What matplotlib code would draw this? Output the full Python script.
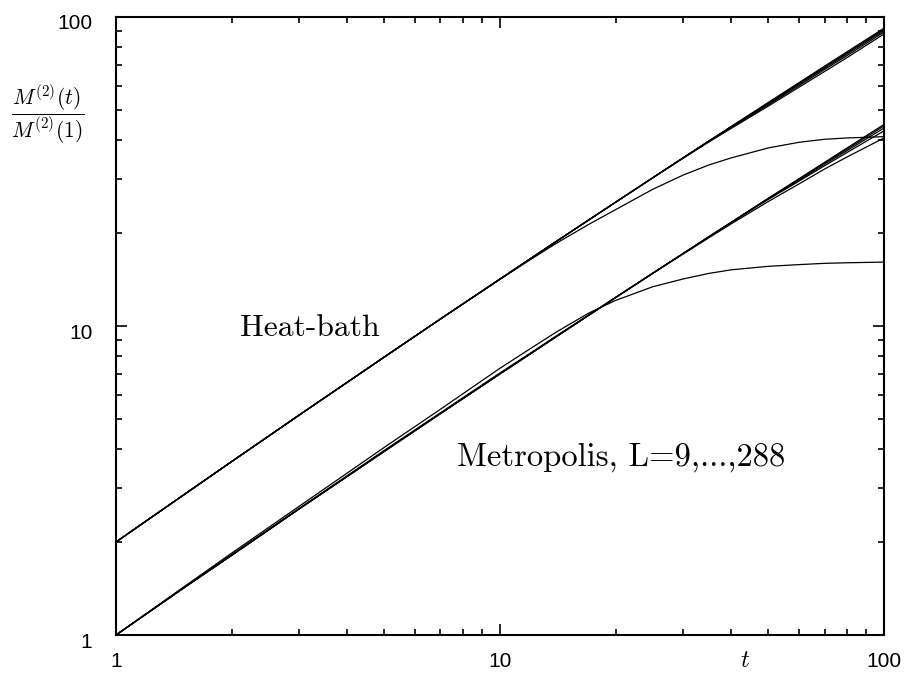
import matplotlib
matplotlib.use("Agg")
import matplotlib.pyplot as plt
import matplotlib.transforms as mtransforms
from matplotlib.ticker import LogLocator, NullFormatter, FixedFormatter, FixedLocator

plt.rcParams['mathtext.fontset'] = 'cm'
plt.rcParams['font.family'] = ['Liberation Sans', 'DejaVu Sans']

# tempi (passi Monte Carlo)
t = [1, 1.5, 2, 3, 5, 7, 10, 12, 14, 17, 20, 25, 30, 35, 40, 50, 60, 70, 80, 100]

# Heat-bath, L = 9, 18, 36, 72, 144, 288
hb_L9   = [2.0, 2.84, 3.64, 5.15, 7.94, 10.54, 14.15, 16.4, 18.5, 21.3, 23.8, 27.7, 30.8, 33.2, 35.0, 37.7, 39.3, 40.2, 40.6, 41.0]
hb_L18  = [2.0, 2.84, 3.64, 5.15, 7.94, 10.54, 14.19, 16.51, 18.76, 22.01, 25.15, 30.18, 34.9, 39.4, 43.6, 51.5, 59.2, 66.6, 73.8, 88.1]
hb_L36  = [2.0, 2.84, 3.64, 5.15, 7.94, 10.54, 14.19, 16.51, 18.76, 22.01, 25.15, 30.18, 35.03, 39.6, 43.9, 52.0, 59.9, 67.6, 74.9, 89.4]
hb_L72  = [2.0, 2.84, 3.64, 5.15, 7.94, 10.54, 14.19, 16.51, 18.76, 22.01, 25.15, 30.18, 35.03, 39.69, 44.1, 52.4, 60.5, 68.3, 75.8, 90.4]
hb_L144 = [2.0, 2.84, 3.64, 5.15, 7.94, 10.54, 14.19, 16.51, 18.76, 22.01, 25.15, 30.18, 35.03, 39.69, 44.2, 52.7, 60.9, 68.8, 76.4, 91.2]
hb_L288 = [2.0, 2.84, 3.64, 5.15, 7.94, 10.54, 14.19, 16.51, 18.76, 22.01, 25.15, 30.18, 35.03, 39.69, 44.2, 52.93, 61.25, 69.31, 77.09, 92.0]

# Metropolis, L = 9, 18, 36, 72, 144, 288
mp_L9   = [1.0, 1.43, 1.84, 2.61, 4.05, 5.38, 7.3, 8.45, 9.55, 11.0, 12.1, 13.4, 14.2, 14.8, 15.2, 15.6, 15.8, 15.95, 16.02, 16.1]
mp_L18  = [1.0, 1.42, 1.82, 2.57, 3.96, 5.24, 7.05, 8.17, 9.28, 10.85, 12.38, 14.8, 17.1, 19.3, 21.4, 25.3, 28.8, 32.2, 35.2, 40.6]
mp_L36  = [1.0, 1.42, 1.81, 2.56, 3.94, 5.21, 7.0, 8.13, 9.23, 10.82, 12.36, 14.82, 17.17, 19.45, 21.6, 25.7, 29.4, 33.0, 36.4, 42.8]
mp_L72  = [1.0, 1.42, 1.81, 2.56, 3.93, 5.21, 7.0, 8.13, 9.23, 10.82, 12.36, 14.82, 17.17, 19.45, 21.65, 25.85, 29.6, 33.4, 36.9, 43.7]
mp_L144 = [1.0, 1.42, 1.81, 2.56, 3.93, 5.21, 7.0, 8.13, 9.23, 10.82, 12.36, 14.82, 17.17, 19.45, 21.65, 25.9, 29.8, 33.7, 37.3, 44.4]
mp_L288 = [1.0, 1.42, 1.81, 2.56, 3.93, 5.21, 7.0, 8.13, 9.23, 10.82, 12.36, 14.82, 17.17, 19.45, 21.65, 25.9, 29.95, 33.84, 37.63, 44.9]

curves = [hb_L9, hb_L18, hb_L36, hb_L72, hb_L144, hb_L288,
          mp_L9, mp_L18, mp_L36, mp_L72, mp_L144, mp_L288]

tick_vals = [1, 10, 100]
tick_labels = ["1", "10", "100"]

fig = plt.figure(figsize=(9.06, 6.77), dpi=100)
ax = fig.add_axes([0.128, 0.062, 0.8477, 0.9129])

for y in curves:
    ax.plot(t, y, color='black', linewidth=0.9)

ax.set_xscale('log')
ax.set_yscale('log')
ax.set_xlim(1, 100)
ax.set_ylim(1, 100)

for axis in (ax.xaxis, ax.yaxis):
    axis.set_major_locator(FixedLocator(tick_vals))
    axis.set_major_formatter(FixedFormatter(tick_labels))
    axis.set_minor_locator(LogLocator(base=10, subs=range(2, 10)))
    axis.set_minor_formatter(NullFormatter())

ax.tick_params(which='both', direction='in', top=True, right=True, width=1.2, colors='black')
ax.tick_params(which='major', length=8, labelsize=15)
ax.tick_params(which='minor', length=4.5)
ax.tick_params(axis='x', which='major', pad=12)
ax.tick_params(axis='y', which='major', pad=17)

# etichette y un po' piu' in basso, come nell'originale
off = mtransforms.ScaledTranslation(0, -5 / 100, fig.dpi_scale_trans)
for lab in ax.get_yticklabels():
    lab.set_transform(lab.get_transform() + off)

for s in ax.spines.values():
    s.set_linewidth(1.5)

ax.text(2.1, 9.85, "Heat-bath", fontfamily='cmr10', fontsize=22.8, ha='left', va='center')
ax.text(7.75, 3.75, "Metropolis, L=9,...,288", fontfamily='cmr10', fontsize=23.5, ha='left', va='center')

fig.text(0.053, 0.831, r"$\dfrac{M^{(2)}(t)}{M^{(2)}(1)}$", fontsize=15.5, ha='center', va='center')
fig.text(0.822, 0.025, r"$t$", fontsize=18, ha='center', va='center')

fig.savefig("out.png", dpi=100)
